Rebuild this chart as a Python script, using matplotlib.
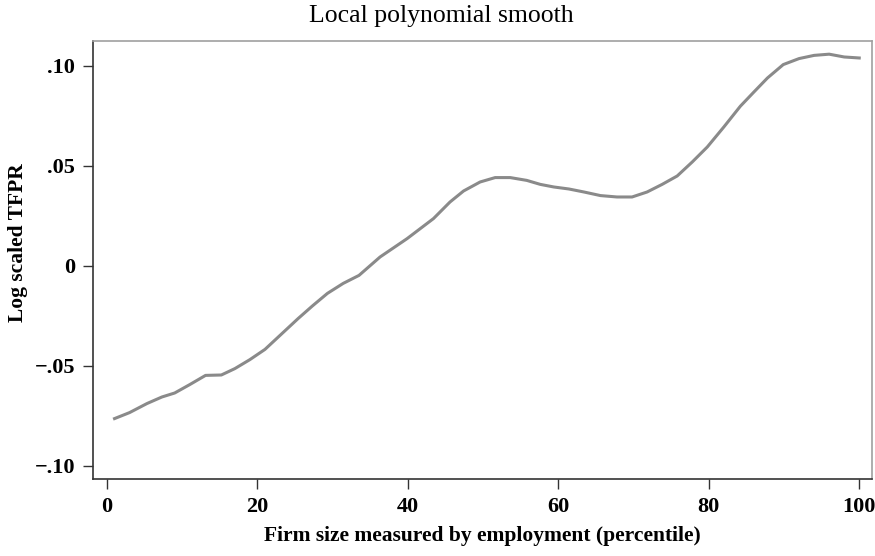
import matplotlib
matplotlib.use("Agg")
import matplotlib.pyplot as plt

# curve
pct = [1, 3, 5.3, 7.3, 9, 11, 13.1, 15.2, 17, 19, 21, 23, 25.4, 27.3, 29.3, 31.4, 33.5,
       36.3, 39.9, 43.4, 45.6, 47.4, 49.6, 51.6, 53.6, 55.8, 57.6, 59.4, 61.4, 63.4,
       65.6, 67.8, 69.8, 71.8, 73.8, 75.8, 77.8, 79.8, 82, 84.2, 86, 87.8, 89.9, 92,
       94, 96, 98, 100]
tfpr = [-0.0763, -0.0733, -0.0688, -0.0655, -0.0635, -0.0593, -0.0547, -0.0545, -0.0513,
        -0.0468, -0.0417, -0.0347, -0.0263, -0.0200, -0.0137, -0.0087, -0.0047,
        0.0045, 0.0137, 0.0237, 0.032, 0.0375, 0.042, 0.0442, 0.0442, 0.0428, 0.0408,
        0.0395, 0.0385, 0.037, 0.0352, 0.0345, 0.0345, 0.037, 0.0408, 0.045, 0.052,
        0.0595, 0.0695, 0.0799, 0.087, 0.094, 0.1007, 0.1037, 0.1053, 0.1059, 0.1045,
        0.104]

xticks = [0, 20, 40, 60, 80, 100]
yticks = [-0.10, -0.05, 0, 0.05, 0.10]
ylabels = ["\u2212.10", "\u2212.05", "0", ".05", ".10"]

plt.rcParams["font.family"] = ["Liberation Serif", "DejaVu Serif"]

fig = plt.figure(figsize=(8.75, 5.56), dpi=100)
ax = fig.add_axes([0.1063, 0.1385, 0.8903, 0.7878])
ax.plot(pct, tfpr, color="#8a8a8a", lw=2.2, solid_joinstyle="round")

ax.set_xlim(-1.86, 101.7)
ax.set_ylim(-0.1065, 0.1125)
ax.set_xticks(xticks)
ax.set_xticklabels([str(t) for t in xticks])
ax.set_yticks(yticks)
ax.set_yticklabels(ylabels)
ax.tick_params(labelsize=16, length=7, width=1, color="#333333", pad=6)
for lab in ax.get_xticklabels() + ax.get_yticklabels():
    lab.set_fontweight("bold")

for s in ["left", "bottom"]:
    ax.spines[s].set_color("#333333")
    ax.spines[s].set_linewidth(1.2)
for s in ["top", "right"]:
    ax.spines[s].set_color("#a0a0a0")
    ax.spines[s].set_linewidth(1.2)

fig.text(0.504, 0.972, "Local polynomial smooth", fontsize=18.5, ha="center", va="center")
ax.set_xlabel("Firm size measured by employment (percentile)", fontsize=15.5,
              fontweight="bold", va="top")
ax.xaxis.set_label_coords(0.5, -0.108)
ax.set_ylabel("Log scaled TFPR", fontsize=15.5, fontweight="bold", va="center")
ax.yaxis.set_label_coords(-0.0963, 0.54)

fig.savefig("out.png", dpi=100)
